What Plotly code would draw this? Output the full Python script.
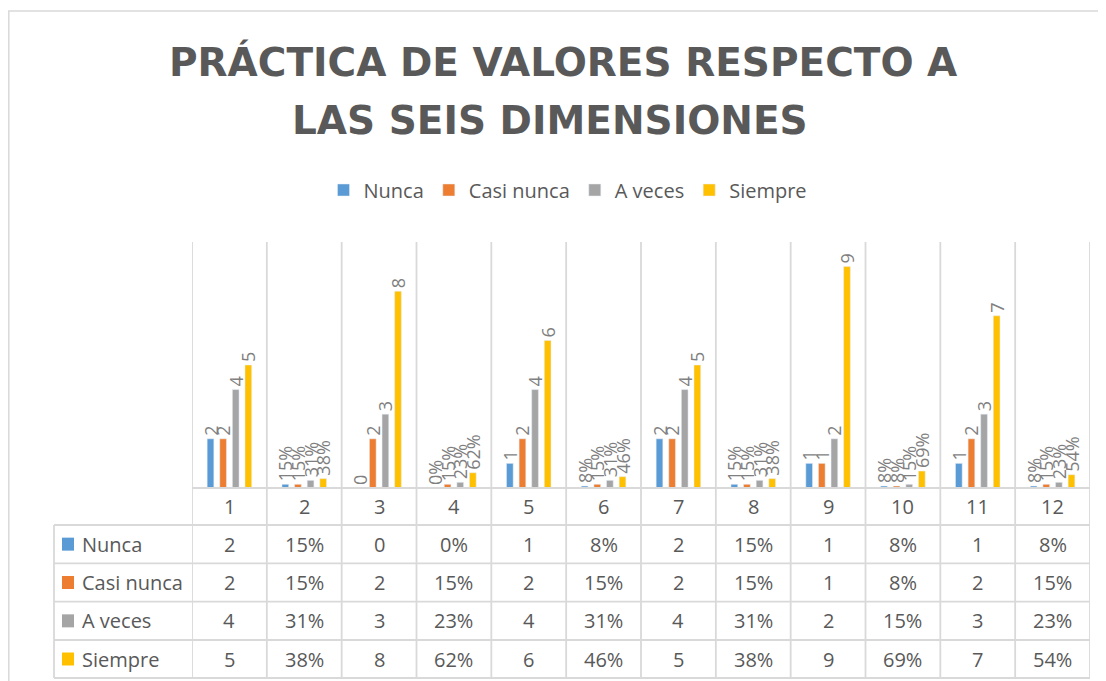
import plotly.graph_objects as go

# ---------------- data ----------------
categories = ["1", "2", "3", "4", "5", "6", "7", "8", "9", "10", "11", "12"]
is_percent = [False, True, False, True, False, True, False, True, False, True, False, True]
series_names = ["Nunca", "Casi nunca", "A veces", "Siempre"]
nunca = [2, 0.15, 0, 0.00, 1, 0.08, 2, 0.15, 1, 0.08, 1, 0.08]
casi_nunca = [2, 0.15, 2, 0.15, 2, 0.15, 2, 0.15, 1, 0.08, 2, 0.15]
a_veces = [4, 0.31, 3, 0.23, 4, 0.31, 4, 0.31, 2, 0.15, 3, 0.23]
siempre = [5, 0.38, 8, 0.62, 6, 0.46, 5, 0.38, 9, 0.69, 7, 0.54]
title_lines = ["PRÁCTICA DE VALORES RESPECTO A", "LAS SEIS DIMENSIONES"]

# ---------------- style ----------------
colors = ["#5B9BD5", "#ED7D31", "#A5A5A5", "#FFC000"]
TXT = "#595959"
GRID = "#D9D9D9"
VW, VH = 1106, 681          # browser window
OFF = 8                      # default page body margin
W, H = VW - OFF, VH - OFF    # figure size
L, R, T, B = 192, 1090, 242, 488  # plot area in window pixels


def px_x(x):
    return (x - L) / (R - L)


def px_y(y):
    return (B - y) / (B - T)


def fmt(v, pct):
    return f"{round(v * 100)}%" if pct else f"{v:g}"


series_values = [nunca, casi_nunca, a_veces, siempre]

fig = go.Figure()
for name, vals, col in zip(series_names, series_values, colors):
    fig.add_trace(go.Bar(
        name=name, x=categories, y=vals, marker_color=col,
        text=[fmt(v, p) for v, p in zip(vals, is_percent)],
        textposition="outside", textangle=-90, constraintext="none",
        cliponaxis=False,
        textfont=dict(family="Open Sans", size=18, color="#7F7F7F"),
        hoverinfo="skip",
    ))

shapes = []
annotations = []

# outer chart border
shapes.append(dict(type="rect", xref="paper", yref="paper",
                   x0=px_x(8.8), x1=px_x(VW + 20), y0=px_y(VH + 20), y1=px_y(11),
                   line=dict(color=GRID, width=1.5), layer="below"))

# row geometry of the data table
row_edges = [525, 563.3, 601.7, 640, 678]
header_center = (B + row_edges[0]) / 2
TABLE_LEFT = 54

# vertical category boundaries
n = len(categories)
for i in range(n + 1):
    shapes.append(dict(type="line", xref="x", yref="paper",
                       x0=i - 0.5, x1=i - 0.5, y0=px_y(row_edges[-1]), y1=1,
                       line=dict(color=GRID, width=1.8), layer="below"))
# axis line
shapes.append(dict(type="line", xref="paper", yref="paper",
                   x0=0, x1=1, y0=0, y1=0, line=dict(color=GRID, width=1.8)))
# table horizontal lines
for y in row_edges:
    shapes.append(dict(type="line", xref="paper", yref="paper",
                       x0=px_x(TABLE_LEFT), x1=1, y0=px_y(y), y1=px_y(y),
                       line=dict(color=GRID, width=1.8), layer="below"))
# table left line
shapes.append(dict(type="line", xref="paper", yref="paper",
                   x0=px_x(TABLE_LEFT), x1=px_x(TABLE_LEFT),
                   y0=px_y(row_edges[0]), y1=px_y(row_edges[-1]),
                   line=dict(color=GRID, width=1.8), layer="below"))

# header row: category labels
for i, c in enumerate(categories):
    annotations.append(dict(xref="x", yref="paper", x=i, y=px_y(header_center),
                            text=c, showarrow=False, xanchor="center", yanchor="middle",
                            font=dict(family="Open Sans", size=20, color=TXT)))

# data rows
for r, (name, vals, col) in enumerate(zip(series_names, series_values, colors)):
    yc = (row_edges[r] + row_edges[r + 1]) / 2
    shapes.append(dict(type="rect", xref="paper", yref="paper",
                       x0=px_x(62), x1=px_x(74), y0=px_y(yc + 6.5), y1=px_y(yc - 6.5),
                       fillcolor=col, line=dict(width=0)))
    annotations.append(dict(xref="paper", yref="paper", x=px_x(80), y=px_y(yc),
                            text=name, showarrow=False, xanchor="left", yanchor="middle",
                            font=dict(family="Open Sans", size=20, color=TXT)))
    for i, (v, p) in enumerate(zip(vals, is_percent)):
        annotations.append(dict(xref="x", yref="paper", x=i, y=px_y(yc),
                                text=fmt(v, p), showarrow=False,
                                xanchor="center", yanchor="middle",
                                font=dict(family="Open Sans", size=20, color=TXT)))

# title (two lines)
for line, xc, yc in zip(title_lines, [563, 550], [62, 121]):
    annotations.append(dict(xref="paper", yref="paper", x=px_x(xc), y=px_y(yc),
                            text=f"<b>{line}</b>", showarrow=False,
                            xanchor="center", yanchor="middle",
                            font=dict(family="DejaVu Sans", size=39, color=TXT)))

fig.update_layout(
    width=W, height=H,
    margin=dict(l=L - OFF, r=VW - R, t=T - OFF, b=VH - B, pad=0),
    paper_bgcolor="white", plot_bgcolor="white",
    barmode="group", bargap=0.326, bargroupgap=0.47,
    xaxis=dict(type="category", range=[-0.5, n - 0.5], showticklabels=False,
               showgrid=False, zeroline=False, showline=False, ticks=""),
    yaxis=dict(range=[0, 10], visible=False),
    showlegend=True,
    legend=dict(orientation="h", x=px_x(568), xanchor="center",
                y=px_y(190), yanchor="middle",
                font=dict(family="Open Sans", size=20, color=TXT),
                bgcolor="rgba(0,0,0,0)"),
    shapes=shapes, annotations=annotations,
)

fig.write_html("out.html")
